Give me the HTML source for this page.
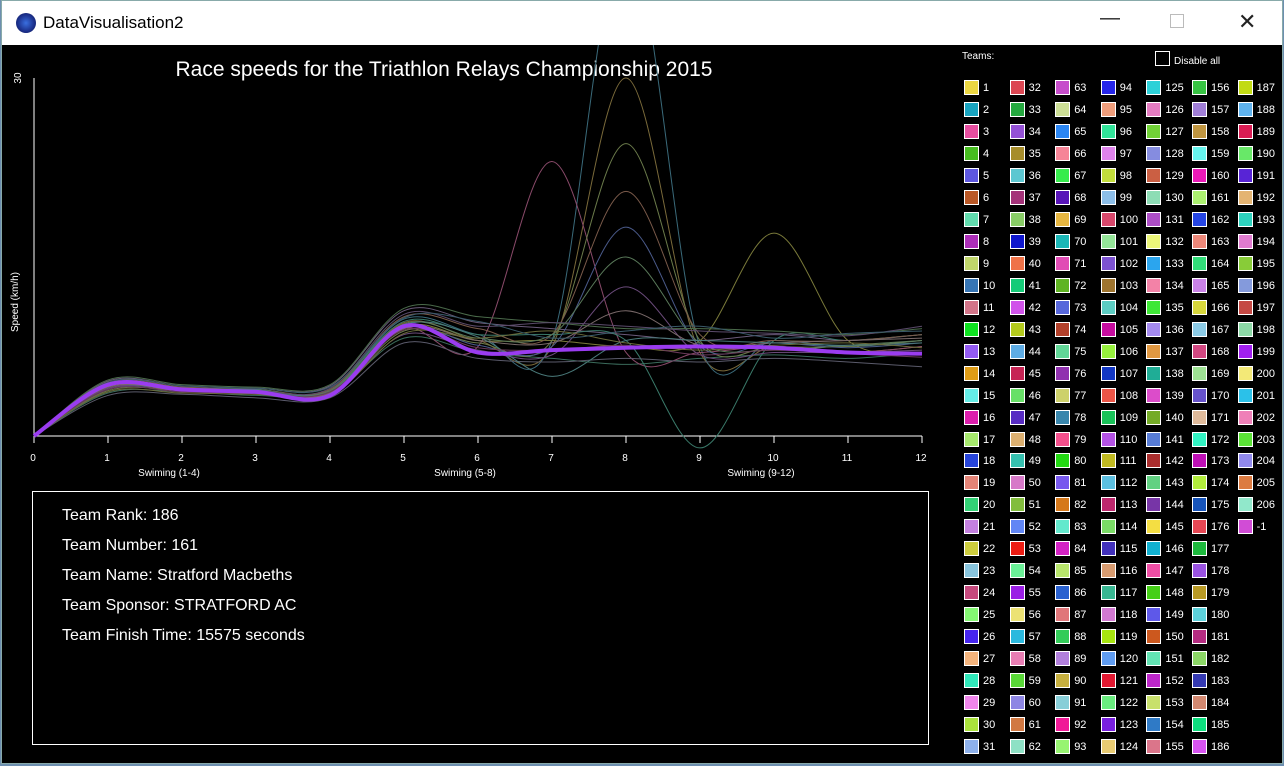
<!DOCTYPE html>
<html><head><meta charset="utf-8">
<style>
*{margin:0;padding:0;box-sizing:border-box}
body{width:1284px;height:766px;background:#6d8fb0;font-family:"Liberation Sans",sans-serif;overflow:hidden;position:relative}
#win{position:absolute;left:1px;top:0;width:1282px;height:764px;background:#000;border:1px solid #8aa}
#titlebar{position:absolute;left:0;top:0;width:100%;height:44px;background:#fff;color:#000}
#titlebar .t{position:absolute;left:41px;top:12px;font-size:17px}
#icon{position:absolute;left:14px;top:12px;width:20px;height:20px;border-radius:50%;background:radial-gradient(circle,#3a6fe0 0,#1b2f8a 60%,#0b1550 100%)}
.ctl{position:absolute;top:10px;font-size:20px;color:#222}
#info{position:absolute;left:30px;top:490px;width:897px;height:254px;border:1px solid #fff;color:#fff;font-size:16px}
#info div{position:absolute;left:29px}
#legend{position:absolute;left:0;top:0}
.lg{position:absolute;font-size:11px;color:#fff}
.bx{position:absolute;width:15px;height:15px;border:1px solid #fff}
</style></head><body>
<div id="win">
<div id="titlebar">
<div id="icon"></div>
<div class="t">DataVisualisation2</div>
<div class="ctl" style="left:1098px;top:6px">—</div>
<div class="ctl" style="left:1168px;top:13px;width:14px;height:14px;border:1px solid #bbb"></div>
<div class="ctl" style="left:1236px;top:8px;font-size:22px">✕</div>
</div>
<svg id="chart" width="1282" height="720" style="position:absolute;left:-3px;top:44px">
<defs><clipPath id="cp"><rect x="0" y="0" width="935" height="440"/></clipPath></defs>
<text x="445" y="31" fill="#fff" font-size="21" text-anchor="middle">Race speeds for the Triathlon Relays Championship 2015</text>
<g id="axes"></g>
<g id="lines" clip-path="url(#cp)"></g>
</svg>
<div id="info">
<div style="top:15px">Team Rank: 186</div>
<div style="top:45px">Team Number: 161</div>
<div style="top:75px">Team Name: Stratford Macbeths</div>
<div style="top:105px">Team Sponsor: STRATFORD AC</div>
<div style="top:135px">Team Finish Time: 15575 seconds</div>
</div>
<div class="lg" style="left:960px;top:50px;font-size:10px">Teams:</div>
<div class="bx" style="left:1153px;top:50px;width:15px;height:15px"></div>
<div class="lg" style="left:1172px;top:55px;font-size:10px">Disable all</div>
<div id="legend"></div>
</div>
<script>
const xTicks=[0,1,2,3,4,5,6,7,8,9,10,11,12];
const sectionLabels=["Swiming (1-4)","Swiming (5-8)","Swiming (9-12)"];
const sectionPos=[2,6,10];
const yMax=30;
const highlight=[0,4.3,3.9,3.7,3.4,9.2,7,7.2,7.4,7.5,7.4,7,6.9];
const s1=[0,4.6,4.2,4.0,4.2,10.5,9.5,9,8.5,8,8.5,8,8.5];
const s2=[0,3.6,3.7,3.4,3.6,8.2,7,6.5,6,6.5,6.8,6.5,7];
const s3=[0,4.2,4,3.8,3.7,9.5,8,7.5,30,7,7.5,7,7.5];
const s4=[0,4.4,3.9,3.6,3.8,9.8,8.5,8,42,7.5,8,7.5,8];
const s5=[0,4,3.8,3.7,3.6,9,7.5,23,7,7,7.5,7,7.5];
const s6=[0,4.1,3.9,3.9,3.8,9.2,8,8,7.5,8,17,8,7];
const s7=[0,4.3,4.1,3.8,3.9,9.6,8.5,8.5,8,-1,8,8,8.5];
const s8=[0,3.8,3.8,3.6,3.5,8.8,7.8,8,24.5,8,7.5,7.5,8];
const s9=[0,4.5,4.1,3.9,3.9,10,9,8.5,20.5,8.5,8,8,8.5];
const s10=[0,3.9,3.9,3.7,3.8,9.1,7.6,7.5,17.5,7.5,7.8,7.4,7.8];
const s11=[0,4.2,4,3.8,3.8,9.4,8.2,8.5,15,7.8,7.2,7.6,8];
const s12=[0,4.0,3.9,3.5,3.5,8.5,7.2,6.8,12.5,6.8,7,7,7.2];
const s13=[0,4.7,4.3,4.1,4.3,10.7,10,9.5,9,9,8.8,8.5,9];
const s14=[0,3.4,3.5,3.2,3.2,7.8,6.5,6.2,6.5,6.2,6.5,6.2,5.8];
const s15=[0,4.1,3.8,3.7,3.6,9,8,7.8,10.5,7.6,7.8,8,8.2];
const s16=[0,4.3,4.0,3.9,3.7,9.3,8.3,5,8,8,7.8,7.6,7.8];
const s17=[0,4.4,4.0,3.8,4.0,10.2,9.2,9.5,9.2,8.8,8.6,8.4,9.2];
const s18=[0,3.7,3.6,3.5,3.4,8.6,8.2,8.8,7.8,7.2,7.6,7.8,7.4];
const s19=[0,4.5,4.2,4.0,4.1,9.9,9.6,8.2,8.8,9.2,8.2,8.6,8.8];
const s20=[0,3.9,3.7,3.6,3.7,8.9,7.4,7.2,7.6,6.8,7.2,6.9,6.6];
const series=[s1,s2,s3,s4,s5,s6,s7,s8,s9,s10,s11,s12,s13,s14,s15,s16,s17,s18,s19,s20];
const seriesColors=["#6a5a7a","#3a6a5a","#7a6a3a","#3a6a7a","#8a4a6a","#7a7a3a","#3a7a6a","#6a7a4a","#7a5a4a","#4a5a8a","#5a7a5a","#6a4a7a","#4a6a4a","#5a5a6a","#7a6a6a","#4a7a7a","#5a4a6a","#6a6a3a","#3a5a6a","#6a3a5a"];

const X=v=>35+v*74, Y=v=>435-v*(358/yMax)-44;
const NS="http://www.w3.org/2000/svg";
function mk(t,a,p){const e=document.createElementNS(NS,t);for(const k in a)e.setAttribute(k,a[k]);p.appendChild(e);return e;}
const ax=document.getElementById('axes'),ln=document.getElementById('lines');
let e=mk('line',{x1:X(0),y1:Y(0),x2:X(0),y2:Y(yMax),stroke:'#fff'},ax);


e=mk('line',{x1:X(0),y1:Y(0),x2:X(12),y2:Y(0),stroke:'#fff'},ax);


xTicks.forEach(t=>{
 let l=mk('line',{x1:X(t),y1:Y(0),x2:X(t),y2:Y(0)+7,stroke:'#fff'},ax);
 
 
 let tx=mk('text',{x:X(t)-1,y:Y(0)+25,fill:'#fff','font-size':10,'text-anchor':'middle'},ax);tx.textContent=t;
 
 
});
sectionLabels.forEach((s,i)=>{let tx=mk('text',{x:X(sectionPos[i])-13,y:Y(0)+40,fill:'#fff','font-size':10,'text-anchor':'middle'},ax);tx.textContent=s;
 
 });
let yt=mk('text',{x:0,y:0,fill:'#fff','font-size':10,'text-anchor':'middle',transform:`translate(22,${Y(yMax)}) rotate(-90)`},ax);yt.textContent=yMax;


let ya=mk('text',{x:0,y:0,fill:'#fff','font-size':10,'text-anchor':'middle',transform:`translate(19,${Y(15)+45}) rotate(-90)`},ax);ya.textContent="Speed (km/h)";


function path(vals){
 const p=vals.map((v,i)=>[X(xTicks[i]),Y(v)]);
 let d=`M${p[0][0]},${p[0][1]}`;
 for(let i=0;i<p.length-1;i++){
  const p0=p[Math.max(0,i-1)],p1=p[i],p2=p[i+1],p3=p[Math.min(p.length-1,i+2)];
  d+=` C${p1[0]+(p2[0]-p0[0])/6},${p1[1]+(p2[1]-p0[1])/6} ${p2[0]-(p3[0]-p1[0])/6},${p2[1]-(p3[1]-p1[1])/6} ${p2[0]},${p2[1]}`;
 }
 return d;
}
series.forEach((s,i)=>{const l=mk('path',{d:path(s),fill:'none',stroke:seriesColors[i],'stroke-width':1},ln);
 
 });
const hl=mk('path',{d:path(highlight),fill:'none',stroke:'#9a3cf0','stroke-width':4},ln);



const lg=document.getElementById('legend');
const labels=[];for(let i=1;i<=206;i++)labels.push(i);labels.push(-1);
function col(i){const h=(i*137.5)%360,s=50+(i*37)%40,l=40+(i*53)%35;return `hsl(${h},${s}%,${l}%)`;}
labels.forEach((n,i)=>{
 const c=Math.floor(i/31),r=i%31;
 const x=962+c*45.6,y=79+r*21.97;
 const b=document.createElement('div');b.className='bx';b.style.left=x+'px';b.style.top=y+'px';b.style.background=col(i+3);
 
 
 lg.appendChild(b);
 const t=document.createElement('div');t.className='lg';t.style.left=(x+19)+'px';t.style.top=(y+2)+'px';t.textContent=n;
 
 
 lg.appendChild(t);
});
</script>
</body></html>
